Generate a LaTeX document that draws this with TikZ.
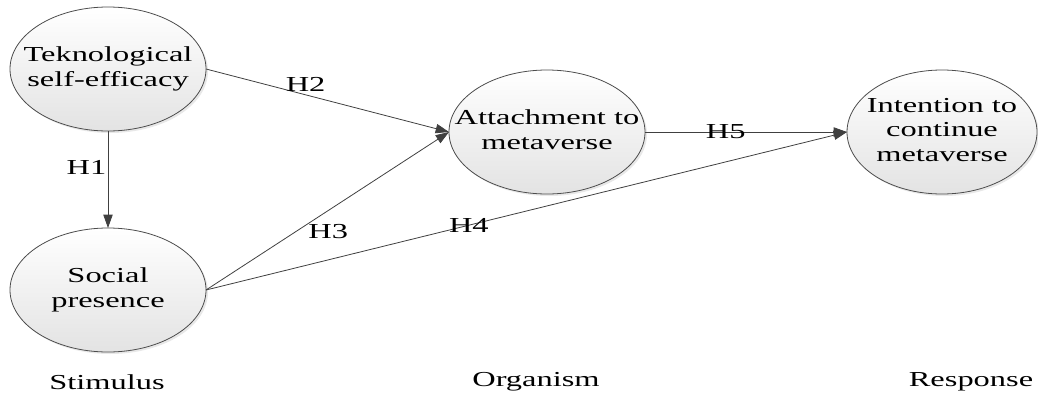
\documentclass[tikz,border=0pt]{standalone}
\usepackage{fontspec}
\setmainfont[FakeStretch=1.52]{Liberation Serif}
\usetikzlibrary{positioning,shapes.geometric,arrows.meta,shadows}
\newcommand{\ctext}[1]{\makebox[0pt]{\begin{tabular}{@{}c@{}}#1\end{tabular}}}

\begin{document}
\begin{tikzpicture}
[x=0.75pt,y=-0.75pt,font=\fontsize{16}{18.5}\selectfont,
construct/.style={draw=black!70,line width=0.6pt,ellipse,
  minimum width=147pt,minimum height=93pt,inner sep=0pt,outer sep=0pt,
  top color=white,bottom color=black!11,
  drop shadow={opacity=0.18,shadow xshift=1.5pt,shadow yshift=-1.5pt}},
hyp/.style={draw=black!75,line width=0.6pt,-{Triangle[length=10pt,width=7pt]}},
hlabel/.style={inner sep=1pt}]
\useasboundingbox (0,0) rectangle (1038,396);
\node[construct](tse) at (108,69){\ctext{Teknological\\self-efficacy}};
\node[construct, below =72.75pt of tse](sp){\ctext{Social\\presence}};
\node[construct](att) at (547,132){\ctext{Attachment to\\metaverse}};
\node[construct,minimum width=142.5pt](int) at (942,132){\ctext{Intention to\\continue\\metaverse}};
\node(stim) at (107,382){Stimulus};
\node(org) at (536,382){Organism};
\node(resp) at (971,382){Response};
\draw[hyp] (tse) -- node[pos=0.38,left,hlabel]{H1} (sp);
\draw[hyp] (tse.east) -- node[pos=0.41,above=1.5pt,hlabel]{H2} (att.west);
\draw[hyp] (sp.east) -- node[pos=0.42,below right,inner sep=0pt]{H3} (att.west);
\draw[hyp] (sp.east) -- node[pos=0.41]{H4} (int.west);
\draw[hyp] (att) -- node[pos=0.40]{H5} (int);
\end{tikzpicture}
\end{document}
